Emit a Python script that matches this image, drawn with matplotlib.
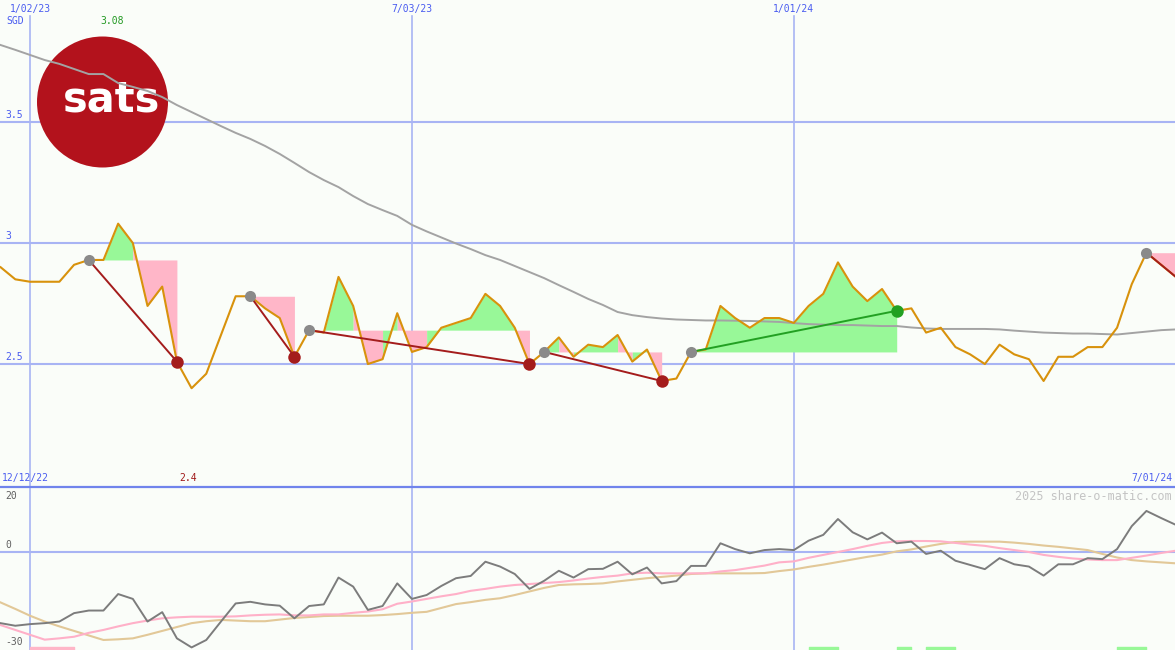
import matplotlib
matplotlib.use("Agg")
import matplotlib.pyplot as plt
from matplotlib.patches import Ellipse
import numpy as np

# Weekly data, 12/12/22 .. 7/01/24 (week 0 = 1/02/23)
first_week = -2

price = [2.90, 2.85, 2.84, 2.84, 2.84, 2.91, 2.93, 2.93, 3.08, 3.00,
         2.74, 2.82, 2.51, 2.40, 2.46, 2.62, 2.78, 2.78, 2.73, 2.69,
         2.53, 2.64, 2.63, 2.86, 2.74, 2.50, 2.52, 2.71, 2.55, 2.57,
         2.65, 2.67, 2.69, 2.79, 2.74, 2.65, 2.50, 2.55, 2.61, 2.53,
         2.58, 2.57, 2.62, 2.51, 2.56, 2.43, 2.44, 2.55, 2.56, 2.74,
         2.69, 2.65, 2.69, 2.69, 2.67, 2.74, 2.79, 2.92, 2.82, 2.76,
         2.81, 2.72, 2.73, 2.63, 2.65, 2.57, 2.54, 2.50, 2.58, 2.54,
         2.52, 2.43, 2.53, 2.53, 2.57, 2.57, 2.65, 2.83, 2.96, 2.91,
         2.86]

long_avg = [3.818, 3.798, 3.777, 3.756, 3.740, 3.719, 3.698, 3.698, 3.661, 3.645,
            3.628, 3.603, 3.570, 3.541, 3.512, 3.483, 3.455, 3.430, 3.401, 3.368,
            3.331, 3.293, 3.260, 3.231, 3.194, 3.161, 3.136, 3.112, 3.075, 3.048,
            3.023, 2.998, 2.975, 2.950, 2.930, 2.905, 2.880, 2.855, 2.826, 2.798,
            2.769, 2.744, 2.715, 2.702, 2.694, 2.688, 2.684, 2.682, 2.680, 2.680,
            2.679, 2.678, 2.676, 2.674, 2.669, 2.665, 2.663, 2.661, 2.661, 2.659,
            2.657, 2.657, 2.651, 2.647, 2.645, 2.645, 2.645, 2.645, 2.643, 2.638,
            2.634, 2.630, 2.628, 2.626, 2.626, 2.624, 2.622, 2.628, 2.634, 2.640,
            2.643]

osc_fast = [-22.1, -22.9, -22.4, -22.1, -21.6, -19.0, -18.2, -18.2, -13.1, -14.6,
            -21.6, -18.7, -26.8, -29.6, -27.3, -21.6, -16.0, -15.5, -16.3, -16.7,
            -20.6, -16.8, -16.3, -8.0, -10.8, -18.0, -16.8, -9.8, -14.6, -13.4,
            -10.6, -8.2, -7.5, -3.1, -4.6, -6.9, -11.5, -9.0, -5.9, -8.0,
            -5.4, -5.3, -3.1, -7.0, -4.9, -9.8, -9.1, -4.4, -4.4, 2.6,
            0.8, -0.5, 0.5, 0.8, 0.5, 3.4, 5.2, 10.1, 6.0, 3.8,
            5.9, 2.6, 3.1, -0.7, 0.3, -2.8, -4.1, -5.4, -2.0, -3.9,
            -4.6, -7.4, -3.9, -3.9, -2.0, -2.3, 0.8, 7.9, 12.6, 10.4,
            8.3]

osc_mid = [-22.7, -24.2, -25.7, -27.2, -26.8, -26.3, -25.1, -24.2, -23.1, -22.1,
           -21.3, -20.6, -20.3, -20.1, -20.1, -20.1, -20.0, -19.7, -19.5, -19.4,
           -19.7, -19.7, -19.4, -19.4, -18.9, -18.5, -17.8, -16.1, -15.4, -14.6,
           -13.8, -13.1, -12.1, -11.5, -10.8, -10.3, -10.0, -9.7, -9.4, -8.9,
           -8.3, -7.8, -7.4, -6.7, -6.5, -6.7, -6.7, -6.7, -6.7, -6.1,
           -5.7, -5.0, -4.3, -3.3, -3.0, -1.9, -1.0, -0.1, 0.8, 1.8,
           2.7, 3.2, 3.3, 3.3, 3.2, 2.7, 2.2, 1.8, 1.1, 0.5,
           -0.1, -1.0, -1.6, -2.1, -2.4, -2.6, -2.6, -1.9, -1.2, -0.4,
           0.3]

osc_slow = [-15.7, -17.7, -19.8, -21.6, -23.1, -24.5, -25.9, -27.3, -27.1, -26.8,
            -25.7, -24.5, -23.3, -22.1, -21.5, -21.1, -21.3, -21.5, -21.5, -21.0,
            -20.5, -20.2, -19.9, -19.8, -19.8, -19.8, -19.6, -19.3, -18.9, -18.6,
            -17.4, -16.2, -15.6, -14.9, -14.4, -13.4, -12.3, -11.2, -10.3, -10.1,
            -10.0, -9.8, -9.2, -8.7, -8.2, -7.8, -7.4, -6.9, -6.7, -6.7,
            -6.7, -6.7, -6.6, -6.0, -5.5, -4.7, -4.0, -3.2, -2.4, -1.6,
            -0.9, 0.1, 0.7, 1.6, 2.4, 3.0, 3.1, 3.1, 3.1, 2.8,
            2.4, 1.9, 1.5, 1.0, 0.5, -0.7, -1.8, -2.6, -3.0, -3.3,
            -3.6]

# swings: (start week, end week, direction)
swings = [(4, 10, "down"), (15, 18, "down"), (19, 34, "down"),
          (35, 43, "down"), (45, 59, "up"), (76, 78, "down")]

# signal bars at the bottom of the oscillator panel (start week, end week)
buy_marks = [(53, 55), (59, 60), (61, 63), (74, 76)]
sell_marks = [(0, 3)]

price_levels = [2.5, 3.0, 3.5]
price_labels = ["2.5", "3", "3.5"]
grid_weeks = [0, 26, 52]
grid_dates = ["1/02/23", "7/03/23", "1/01/24"]
first_date = "12/12/22"
last_date = "7/01/24"
currency = "SGD"
watermark = "2025 share-o-matic.com"

weeks = np.arange(first_week, first_week + len(price))

# Colours
bg = "#fafdf9"
grid_c = "#a8b4f4"
border_c = "#7084ec"
label_c = "#4a5cf0"
osc_label_c = "#606060"
price_c = "#d8920c"
avg_c = "#a3a3a3"
fill_up = "#98f898"
fill_down = "#ffb6c8"
trend_down = "#a41c1c"
trend_up = "#22a022"
dot_start = "#8a8a8a"
logo_c = "#b3121c"

font_small = {"family": "DejaVu Sans Mono", "size": 7}
font_mark = {"family": "DejaVu Sans Mono", "size": 8.5}

W, H, H_TOP = 1175, 650, 487
PX_WEEK = 14.69


def plot_swing(ax, start, end, direction):
    i0, i1 = start - first_week, end - first_week
    level = price[i0]
    # colour of each weekly segment, then join equal neighbours into runs
    colours = [fill_up if price[i + 1] > level else fill_down for i in range(i0, i1)]
    run_start = i0
    for j in range(1, len(colours) + 1):
        if j == len(colours) or colours[j] != colours[j - 1]:
            a, b = run_start, i0 + j
            ax.fill_between(weeks[a:b + 1], price[a:b + 1], level,
                            color=colours[j - 1], lw=0, zorder=2)
            run_start = b
    line_c = trend_up if direction == "up" else trend_down
    ax.plot([weeks[i0], weeks[i1]], [price[i0], price[i1]], color=line_c, lw=1.4, zorder=5)
    ax.plot(weeks[i0], price[i0], "o", color=dot_start, ms=8, mew=0, zorder=6)
    if i1 < len(price) - 1:
        ax.plot(weeks[i1], price[i1], "o", color=line_c, ms=9, mew=0, zorder=6)


fig = plt.figure(figsize=(W / 100, H / 100), dpi=100, facecolor=bg)
top = fig.add_axes([0, (H - H_TOP) / H, 1, H_TOP / H])
bot = fig.add_axes([0, 0, 1, (H - H_TOP) / H])
for ax in (top, bot):
    ax.set_facecolor(bg)
    ax.set_xlim(-30 / PX_WEEK, (W - 30) / PX_WEEK)
    ax.set_xticks([])
    ax.set_yticks([])
    for s in ax.spines.values():
        s.set_visible(False)
top.set_ylim(1.992, 4.004)
bot.set_ylim(-30.4, 20)

# grid, price panel
for lvl, lab in zip(price_levels, price_labels):
    top.axhline(lvl, color=grid_c, lw=1.5, zorder=0.5)
    top.annotate(lab, xy=(0, lvl), xycoords=top.get_yaxis_transform(),
                 xytext=(4, 1.5), textcoords="offset points",
                 ha="left", va="bottom", color=label_c, **font_small)
for w, d in zip(grid_weeks, grid_dates):
    top.axvline(w, ymax=1 - 16 / H_TOP, color=grid_c, lw=1.2, zorder=0.5)
    bot.axvline(w, color=grid_c, lw=1.2, zorder=0.5)
    top.text(w, 1 - 9 / H_TOP, d, transform=top.get_xaxis_transform(),
             ha="center", va="center", color=label_c, **font_small)
top.text(6 / W, 1 - 20.5 / H_TOP, currency, transform=top.transAxes,
         ha="left", va="center", color=label_c, **font_small)

# logo
top.add_patch(Ellipse((102.5 / W, 1 - 102 / H_TOP), 131 / W, 131 / H_TOP,
                      transform=top.transAxes, color=logo_c, lw=0, zorder=1))
top.text(112 / W, 1 - 112 / H_TOP, "sats", transform=top.transAxes, ha="center",
         va="baseline", color="white", fontsize=30, fontweight="bold",
         family="DejaVu Sans", zorder=1.1)

# price + long average
top.plot(weeks, long_avg, color=avg_c, lw=1.4, zorder=3)
top.plot(weeks, price, color=price_c, lw=1.5, zorder=4)
for start, end, direction in swings:
    plot_swing(top, start, end, direction)

# high / low labels
i_max = int(np.argmax(price))
i_min = int(np.argmin(price))
top.annotate(f"{price[i_max]:g}", xy=(weeks[i_max], 1 - 20.5 / H_TOP),
             xycoords=top.get_xaxis_transform(), xytext=(4, 0), textcoords="offset points",
             ha="right", va="center", color="#229922", **font_small)
top.annotate(f"{price[i_min]:g}", xy=(weeks[i_min], 9 / H_TOP),
             xycoords=top.get_xaxis_transform(), xytext=(4, 0), textcoords="offset points",
             ha="right", va="center", color="#a01818", **font_small)
top.text(2 / W, 9 / H_TOP, first_date, transform=top.transAxes,
         ha="left", va="center", color=label_c, **font_small)
top.text(1172 / W, 9 / H_TOP, last_date, transform=top.transAxes,
         ha="right", va="center", color=label_c, **font_small)

# oscillator panel
bot.axhline(0, color=grid_c, lw=1.5, zorder=0.5)
bot.axhline(20, color=border_c, lw=1.6, zorder=7, clip_on=False)
bot.plot(weeks, osc_slow, color="#e2c898", lw=1.5, zorder=2)
bot.plot(weeks, osc_mid, color="#ffb0c8", lw=1.5, zorder=3)
bot.plot(weeks, osc_fast, color="#7c7c7c", lw=1.4, zorder=4)
bot.broken_barh([(s, e - s) for s, e in buy_marks], (-30.4, 0.95), color=fill_up, zorder=5)
bot.broken_barh([(s, e - s) for s, e in sell_marks], (-30.4, 0.95), color=fill_down, zorder=5)

bot.annotate("20", xy=(0, 20), xycoords=bot.get_yaxis_transform(), xytext=(4, -3),
             textcoords="offset points", ha="left", va="top", color=osc_label_c, **font_small)
bot.annotate("0", xy=(0, 0), xycoords=bot.get_yaxis_transform(), xytext=(4, 1.5),
             textcoords="offset points", ha="left", va="bottom", color=osc_label_c, **font_small)
bot.annotate("-30", xy=(0, -30.4), xycoords=bot.get_yaxis_transform(), xytext=(4, 2),
             textcoords="offset points", ha="left", va="bottom", color=osc_label_c, **font_small)
bot.text(1172 / W, 1 - 9.5 / (H - H_TOP), watermark, transform=bot.transAxes,
         ha="right", va="center", color="#c4c4c4", **font_mark)

fig.savefig("out.png", dpi=100, facecolor=bg)
